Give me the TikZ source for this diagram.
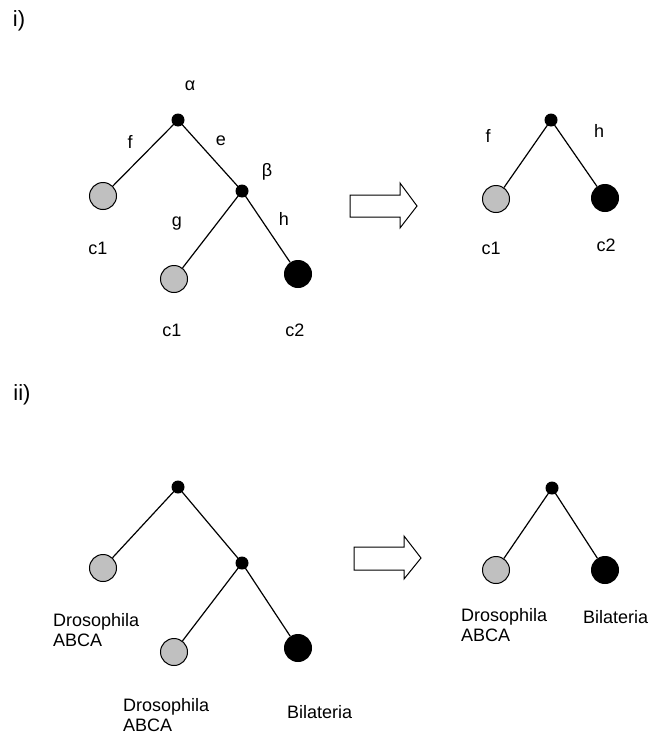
\documentclass[tikz,border=0pt]{standalone}
\usepackage{fontspec}
\setmainfont{Liberation Sans}
\definecolor{leafgray}{RGB}{192,192,192}
\begin{document}
\begin{tikzpicture}[x=1pt,y=-1pt,
  innernode/.style={circle,fill=black,inner sep=0pt,minimum size=13pt},
  leafg/.style={circle,draw=black,line width=1pt,fill=leafgray,inner sep=0pt,minimum size=27pt},
  leafb/.style={circle,draw=black,line width=1pt,fill=black,inner sep=0pt,minimum size=27pt},
  branch/.style={line width=1.2pt},
  lbl/.style={inner sep=0pt,font=\fontsize{18}{20.5}\selectfont},
  plbl/.style={inner sep=0pt,font=\fontsize{22}{24}\selectfont},
  mlbl/.style={lbl,align=left,anchor=north west},
  blockarrow/.style={draw=black,line width=1pt,fill=white}]
\useasboundingbox (0,0) rectangle (664,736);

% panel labels
\node[plbl] (pi) at (19,21) {i)};
\node[plbl] (pii) at (22,395) {ii)};

% ---------- panel i, left tree ----------
\node[innernode] (a1) at (178,120) {};
\node[innernode] (b1) at (242,191) {};
\node[leafg] (l1) at (103,196) {};
\node[leafg] (l2) at (174,279) {};
\node[leafb] (l3) at (298,274) {};
\draw[branch] (a1.center) -- (l1);
\draw[branch] (a1.center) -- (b1.center);
\draw[branch] (b1.center) -- (l2);
\draw[branch] (b1.center) -- (l3);
\node[lbl] (alpha) at (190,86) {α};
\node[lbl] (beta) at (267,172) {β};
\node[lbl] (lf) at (130,142) {f};
\node[lbl] (le) at (221,141) {e};
\node[lbl] (lg) at (177,224) {g};
\node[lbl] (lh) at (284,219) {h};
\node[lbl] (c1a) at (98,248) {c1};
\node[lbl] (c1b) at (172,330) {c1};
\node[lbl] (c2a) at (295,330) {c2};

% arrow i
\draw[blockarrow] (350,195) -- (400,195) -- (400,183) -- (417,206) -- (400,228) -- (400,217) -- (350,217) -- cycle;

% ---------- panel i, right tree ----------
\node[innernode] (a2) at (551,120) {};
\node[leafg] (r1) at (496,199) {};
\node[leafb] (r2) at (605,198) {};
\draw[branch] (a2.center) -- (r1);
\draw[branch] (a2.center) -- (r2);
\node[lbl] (rf) at (488,136) {f};
\node[lbl] (rh) at (599,131) {h};
\node[lbl] (rc1) at (491,248) {c1};
\node[lbl] (rc2) at (606,245) {c2};

% ---------- panel ii, left tree ----------
\node[innernode] (a3) at (178,487) {};
\node[innernode] (b3) at (242,563) {};
\node[leafg] (m1) at (103,568) {};
\node[leafg] (m2) at (174,652) {};
\node[leafb] (m3) at (298,648) {};
\draw[branch] (a3.center) -- (m1);
\draw[branch] (a3.center) -- (b3.center);
\draw[branch] (b3.center) -- (m2);
\draw[branch] (b3.center) -- (m3);
\node[mlbl] (d1) at (53,613) {Drosophila\\ABCA};
\node[mlbl] (d2) at (123,698) {Drosophila\\ABCA};
\node[mlbl] (bi1) at (287,705) {Bilateria};

% arrow ii
\draw[blockarrow] (354,547) -- (404,547) -- (404,536) -- (421,558) -- (404,579) -- (404,570) -- (354,570) -- cycle;

% ---------- panel ii, right tree ----------
\node[innernode] (a4) at (552,488) {};
\node[leafg] (s1) at (496,570) {};
\node[leafb] (s2) at (605,570) {};
\draw[branch] (a4.center) -- (s1);
\draw[branch] (a4.center) -- (s2);
\node[mlbl] (d3) at (461,608) {Drosophila\\ABCA};
\node[mlbl] (bi2) at (583,610) {Bilateria};
\end{tikzpicture}
\end{document}
